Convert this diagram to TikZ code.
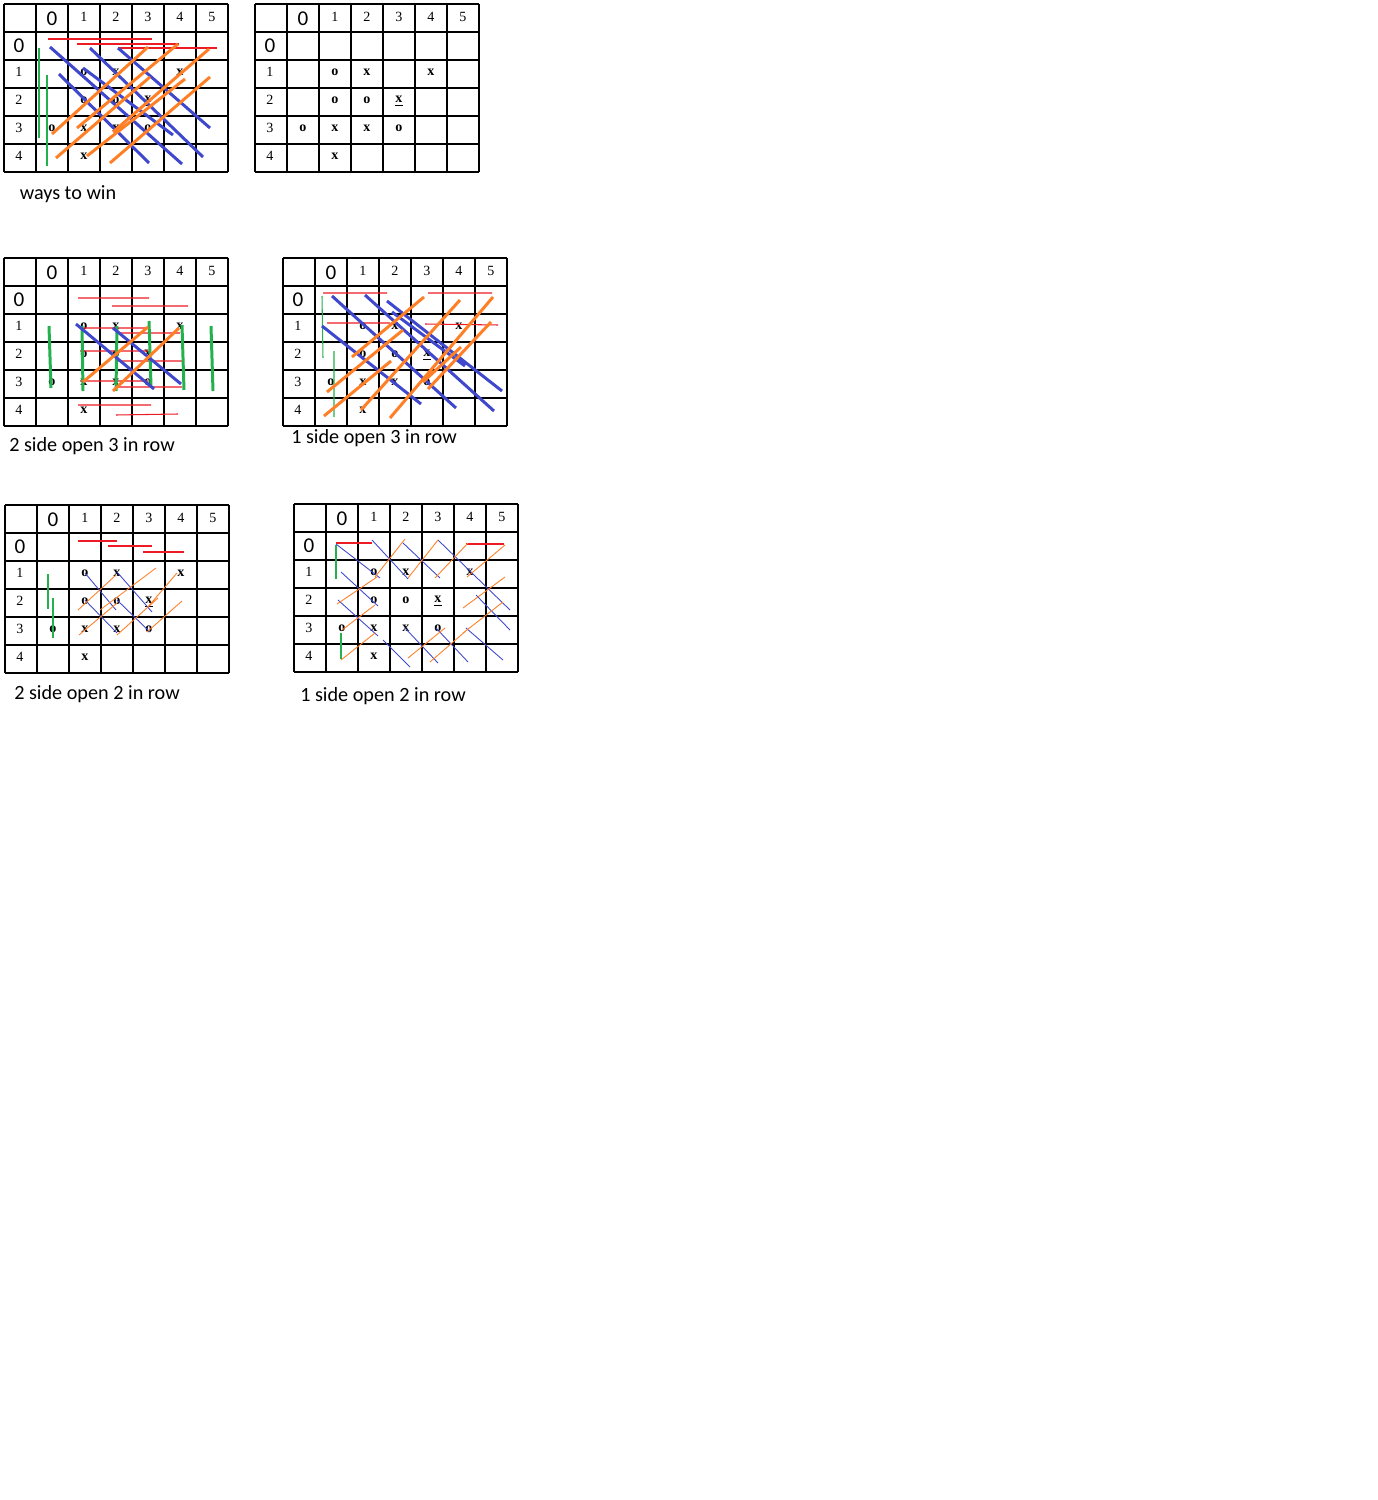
\documentclass[tikz,border=0pt]{standalone}
\usepackage{fontspec}
\setmainfont{Liberation Serif}
\newfontfamily\labfont{Carlito}
\usepackage{tikz}
\definecolor{pblue}{RGB}{63,72,204}
\definecolor{porange}{RGB}{255,127,39}
\definecolor{pgreen}{RGB}{34,177,76}
\definecolor{pred}{RGB}{237,28,36}

% empty board with the same position in it
\newcommand{\board}[1]{%
  \foreach \i in {0,...,7} \draw[gridln] (32*\i,0) -- (32*\i,168);
  \foreach \j in {0,...,6} \draw[gridln] (0,28*\j) -- (224,28*\j);
  \node[zero] (#1-c0) at (48,15) {0};
  \foreach \c in {1,...,5} \node[num] (#1-c\c) at (48+32*\c,13) {\c};
  \node[zero] (#1-r0) at (15,42) {0};
  \foreach \r in {1,...,4} \node[num] (#1-r\r) at (15,40+28*\r) {\r};
  \foreach \r/\c/\p in {1/1/o,1/2/x,1/4/x,2/1/o,2/2/o,3/0/o,3/1/x,3/2/x,3/3/o,4/1/x}
    \node[piece] (#1-p\r\c) at (48+32*\c,40+28*\r) {\p};
  \node[piece] (#1-p23) at (144,97) {\underline{x}};
}

\begin{document}
\begin{tikzpicture}[x=0.02cm,y=-0.02cm]
    \tikzstyle{gridln}=[black,line width=0.6pt];
    \tikzstyle{zero}=[inner sep=0pt,font=\labfont\fontsize{12}{14}\selectfont];
    \tikzstyle{num}=[inner sep=0pt,font=\fontsize{8}{9}\selectfont];
    \tikzstyle{piece}=[inner sep=0pt,font=\fontsize{8}{9}\selectfont\bfseries];
    \tikzstyle{lbl}=[inner sep=0pt,font=\labfont\fontsize{11.5}{13}\selectfont];
    \tikzstyle{bthick}=[pblue,line width=1.7pt];
    \tikzstyle{othick}=[porange,line width=1.7pt];
    \tikzstyle{gthick}=[pgreen,line width=1.7pt];
    \tikzstyle{bthin}=[pblue,line width=0.5pt];
    \tikzstyle{othin}=[porange,line width=0.5pt];
    \tikzstyle{gthin}=[pgreen,line width=0.6pt];
    \tikzstyle{rthin}=[pred,line width=0.6pt];
    \useasboundingbox (0,0) rectangle (1378,1500);
    % ways to win
    \begin{scope}[shift={(4,4)}]
        \board{a}
        \draw[rthin] (44,35) -- (148,35) (73,40) -- (175,40) (114,44) -- (213,44);
        \draw[gthick] (35,44) -- (35,134) (43,71) -- (43,162);
        \draw[bthick] (46,43) -- (178,160) (55,70) -- (145,159) (79,64) -- (169,131)
            (86,44) -- (199,153) (114,44) -- (206,124);
        \draw[othick] (48,130) -- (144,43) (52,154) -- (146,73) (73,124) -- (174,40)
            (83,152) -- (181,75) (109,128) -- (205,45) (106,159) -- (206,73);
        \node[lbl] (a-lbl) at (64,190) {ways to win};
    \end{scope}
    % position
    \begin{scope}[shift={(255,4)}]
        \board{b}
    \end{scope}
    % 2 side open 3
    \begin{scope}[shift={(4,258)}]
        \board{c}
        \draw[rthin] (74,40) -- (145,40) (108,48) -- (184,48) (74,147) -- (147,147) (112,157) -- (174,156)
            (76,70) -- (144,70) (113,75) -- (176,75) (76,93) -- (144,93) (113,103) -- (178,103)
            (76,123) -- (144,123) (113,129) -- (178,129);
        \draw[gthick] (45,68) -- (47,130) (78,68) -- (79,133) (113,68) -- (112,133)
            (145,63) -- (147,128) (178,67) -- (180,132) (207,68) -- (209,133);
        \draw[bthick] (72,66) -- (150,131) (109,70) -- (177,126);
        \draw[othick] (79,124) -- (144,69) (109,133) -- (175,70);
        \node[lbl] (c-lbl) at (88,188) {2 side open 3 in row};
    \end{scope}
    % 1 side open 3
    \begin{scope}[shift={(283,258)}]
        \board{d}
        \draw[rthin] (40,35) -- (104,35) (44,65) -- (107,65) (145,35) -- (209,35) (142,66) -- (215,67);
        \draw[gthin] (39,38) -- (40,100) (51,93) -- (51,159);
        \draw[bthick] (49,38) -- (173,150) (39,68) -- (138,146) (82,37) -- (211,153)
            (104,43) -- (219,133) (109,54) -- (182,108);
        \draw[othick] (69,99) -- (141,39) (44,134) -- (120,72) (41,158) -- (108,103)
            (78,152) -- (177,42) (107,160) -- (210,39) (145,131) -- (208,64) (140,124) -- (178,89);
        \node[lbl] (d-lbl) at (91,180) {1 side open 3 in row};
    \end{scope}
    % 2 side open 2
    \begin{scope}[shift={(5,505)}]
        \board{e}
        \draw[rthin,line width=0.9pt] (73,36) -- (112,36) (103,41) -- (147,41) (138,47) -- (179,47);
        \draw[gthin] (43,69) -- (43,104) (48,93) -- (48,133);
        \draw[bthin] (80,68) -- (111,105) (112,67) -- (147,107) (80,95) -- (112,128) (112,95) -- (145,127);
        \draw[othin] (73,105) -- (111,70) (74,130) -- (112,98) (95,105) -- (151,63)
            (112,130) -- (153,93) (142,103) -- (172,68) (142,127) -- (177,96);
        \node[lbl] (e-lbl) at (92,189) {2 side open 2 in row};
    \end{scope}
    % 1 side open 2
    \begin{scope}[shift={(294,504)}]
        \board{f}
        \draw[rthin,line width=0.9pt] (42,39) -- (78,39) (172,40) -- (210,40);
        \draw[gthin] (42,41) -- (42,75) (47,129) -- (47,155);
        \draw[bthin] (42,40) -- (86,74) (78,36) -- (114,75) (109,39) -- (146,74) (144,36) -- (216,106)
            (47,68) -- (84,102) (44,96) -- (84,132) (89,136) -- (116,163) (111,124) -- (144,159)
            (142,124) -- (174,158) (172,124) -- (209,156) (182,91) -- (216,126);
        \draw[othin] (81,73) -- (111,35) (114,74) -- (144,36) (141,74) -- (174,39) (173,73) -- (211,41)
            (43,100) -- (83,73) (48,126) -- (81,101) (47,156) -- (81,129) (114,154) -- (151,124)
            (136,158) -- (173,126) (169,129) -- (209,98) (169,104) -- (211,73);
        \node[lbl] (f-lbl) at (89,192) {1 side open 2 in row};
    \end{scope}
\end{tikzpicture}
\end{document}
